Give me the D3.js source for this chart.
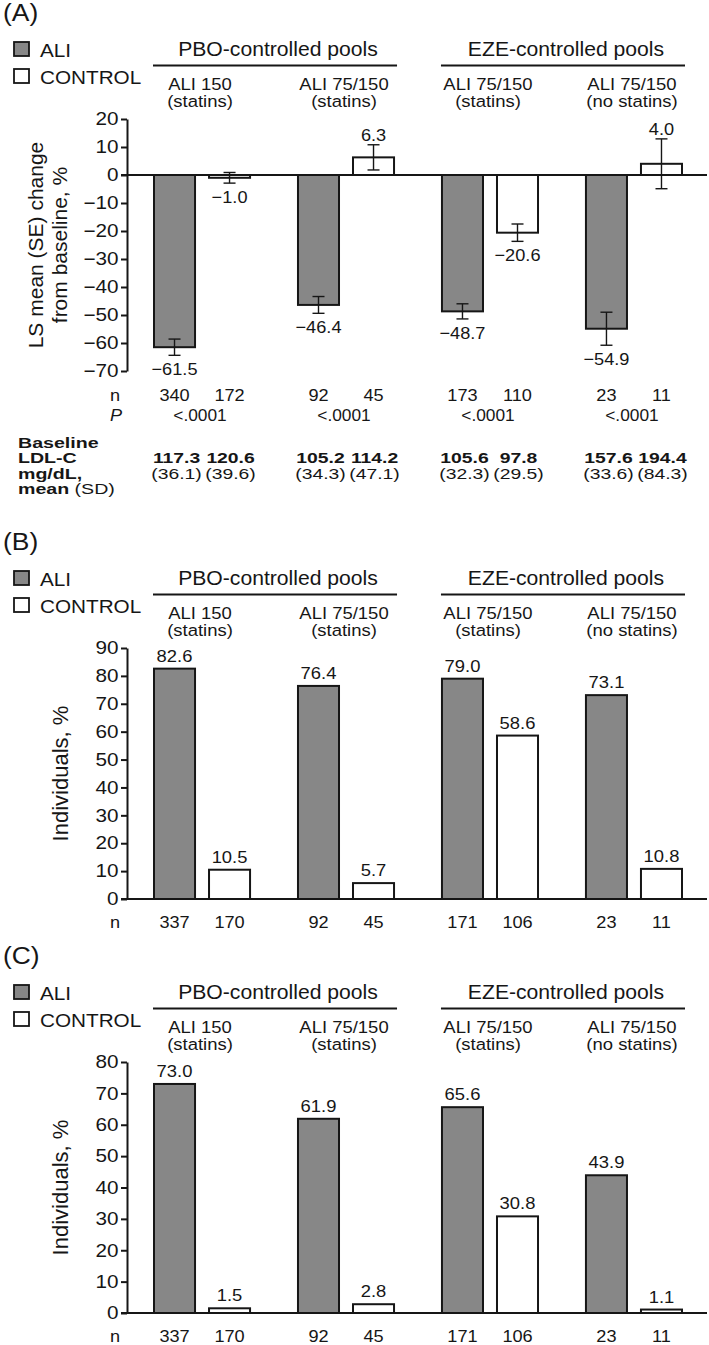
<!DOCTYPE html>
<html><head><meta charset="utf-8">
<script src="https://cdn.jsdelivr.net/npm/d3@7"></script>
<style>
html,body{margin:0;padding:0;background:#fff;}
svg{display:block;font-family:"Liberation Sans",Arial,Helvetica,sans-serif;}
text{fill:#161616;}
</style></head>
<body>
<svg id="chart" width="709" height="1345"></svg>
<script>
// ---------- data ----------
const groups = ["g1", "g2", "g3", "g4"];
const series = ["ALI", "CONTROL"];
const pools = ["PBO-controlled pools", "EZE-controlled pools"];
const subTop = ["ALI 150", "ALI 75/150", "ALI 75/150", "ALI 75/150"];
const subBottom = ["(statins)", "(statins)", "(statins)", "(no statins)"];

// Panel A: LS mean (SE) % change from baseline
const aAli = [-61.5, -46.4, -48.7, -54.9];
const aAliSE = [2.9, 3.0, 2.7, 5.9];
const aCtl = [-1.0, 6.3, -20.6, 4.0];
const aCtlSE = [1.9, 4.5, 3.1, 8.9];
const aNAli = [340, 92, 173, 23];
const aNCtl = [172, 45, 110, 11];
const aP = ["<.0001", "<.0001", "<.0001", "<.0001"];
const baseAli = ["117.3", "105.2", "105.6", "157.6"];
const baseCtl = ["120.6", "114.2", "97.8", "194.4"];
const sdAli = ["(36.1)", "(34.3)", "(32.3)", "(33.6)"];
const sdCtl = ["(39.6)", "(47.1)", "(29.5)", "(84.3)"];
const aTicks = [-70, -60, -50, -40, -30, -20, -10, 0, 10, 20];

// Panel B: individuals, %
const bAli = [82.6, 76.4, 79.0, 73.1];
const bCtl = [10.5, 5.7, 58.6, 10.8];
const bNAli = [337, 92, 171, 23];
const bNCtl = [170, 45, 106, 11];
const bTicks = [0, 10, 20, 30, 40, 50, 60, 70, 80, 90];

// Panel C: individuals, %
const cAli = [73.0, 61.9, 65.6, 43.9];
const cCtl = [1.5, 2.8, 30.8, 1.1];
const cNAli = [337, 92, 171, 23];
const cNCtl = [170, 45, 106, 11];
const cTicks = [0, 10, 20, 30, 40, 50, 60, 70, 80];

// ---------- styling / layout ----------
const GRAY = "#878787";
const INK = "#161616";
const svg = d3.select("#chart");
svg.append("rect").attr("width", 709).attr("height", 1345).attr("fill", "#fff");

const x0 = d3.scaleBand().domain(groups).range([153, 683]).paddingInner(0.319).paddingOuter(0);
const x1 = d3.scaleBand().domain(series).range([0, x0.bandwidth()]).paddingInner(0.218).paddingOuter(0);
const cx = (g, s) => x0(g) + x1(s) + x1.bandwidth() / 2;
const gc = g => x0(g) + x0.bandwidth() / 2;
const minus = s => String(s).replace(/-/g, "\u2212");
const fmt = v => minus(d3.format(".1f")(v));

function T(g, x, y, s, o = {}) {
  const t = g.append("text")
    .attr("transform", `translate(${x},${y}) scale(${o.sx || 1.1},1)`)
    .attr("text-anchor", o.anchor || "middle")
    .style("font-size", (o.size || 17) + "px")
    .style("font-weight", o.weight || "normal");
  if (o.italic) t.style("font-style", "italic");
  t.text(s);
  return t;
}

function header(g, label) {
  T(g, 3, 21, label, {anchor: "start", size: 24, sx: 1.1});
  // legend
  [["ALI", GRAY, 42, 57], ["CONTROL", "#fff", 69, 84]].forEach(([name, fill, sy, ty]) => {
    g.append("rect").attr("x", 14).attr("y", sy).attr("width", 15).attr("height", 14)
      .attr("fill", fill).attr("stroke", INK).attr("stroke-width", 1.8);
    T(g, 40, ty, name, {anchor: "start", size: 18.5, sx: 1.12});
  });
  // pool headers
  const poolSpans = [[groups[0], groups[1]], [groups[2], groups[3]]];
  poolSpans.forEach(([ga, gb], i) => {
    const xa = x0(ga), xb = x0(gb) + x0.bandwidth();
    g.append("line").attr("x1", xa).attr("x2", xb + 2).attr("y1", 65.5).attr("y2", 65.5)
      .attr("stroke", INK).attr("stroke-width", 2);
    T(g, (xa + xb) / 2 + 4, 56, pools[i], {size: 19.5, sx: 1.085});
  });
  groups.forEach((gr, i) => {
    T(g, gc(gr) - 2, 90, subTop[i], {size: 16.8, sx: 1.1});
    T(g, gc(gr) - 2, 107, subBottom[i], {size: 16.8, sx: 1.1});
  });
}

function yAxis(g, y, ticks) {
  const ax = g.append("g").attr("transform", "translate(127,0)")
    .call(d3.axisLeft(y).tickValues(ticks).tickSize(6).tickSizeOuter(0).tickPadding(3)
      .tickFormat(d => minus(d3.format("d")(d))));
  ax.select(".domain").attr("stroke", INK).attr("stroke-width", 2);
  ax.selectAll(".tick line").attr("stroke", INK).attr("stroke-width", 2);
  ax.selectAll(".tick text").attr("fill", INK).style("font-size", "18px")
    .style("font-family", "'Liberation Sans',Arial,Helvetica,sans-serif")
    .attr("x", -8.5 / 1.15).attr("transform", "scale(1.15,1)");
  // zero line across the chart
  g.append("line").attr("x1", 121).attr("x2", 707).attr("y1", y(0)).attr("y2", y(0))
    .attr("stroke", INK).attr("stroke-width", 2);
}

function bars(g, y, vals, name) {
  g.selectAll(null).data(vals).enter().append("rect")
    .attr("x", (d, i) => x0(groups[i]) + x1(name) + 1)
    .attr("width", x1.bandwidth() - 2)
    .attr("y", d => Math.min(y(d), y(0)))
    .attr("height", d => Math.abs(y(d) - y(0)))
    .attr("fill", name === "ALI" ? GRAY : "#fff")
    .attr("stroke", INK).attr("stroke-width", 2);
}

function nRow(g, yb, nA, nC) {
  T(g, 120, yb, "n", {anchor: "end", size: 16.5, sx: 1.1});
  groups.forEach((gr, i) => {
    T(g, cx(gr, "ALI"), yb, String(nA[i]), {size: 16.5, sx: 1.1});
    T(g, cx(gr, "CONTROL"), yb, String(nC[i]), {size: 16.5, sx: 1.1});
  });
}

// ---------- Panel A ----------
(function () {
  const g = svg.append("g").attr("transform", "translate(0,0)");
  header(g, "(A)");
  const y = d3.scaleLinear().domain([-70, 20]).range([371, 119]);
  g.append("text").attr("transform", "translate(43,245) rotate(-90)")
    .attr("text-anchor", "middle").style("font-size", "21px").text("LS mean (SE) change");
  g.append("text").attr("transform", "translate(67,245) rotate(-90)")
    .attr("text-anchor", "middle").style("font-size", "21px").text("from baseline, %");
  yAxis(g, y, aTicks);
  bars(g, y, aAli, "ALI");
  bars(g, y, aCtl, "CONTROL");
  [[aAli, aAliSE, "ALI"], [aCtl, aCtlSE, "CONTROL"]].forEach(([v, se, name]) => {
    v.forEach((d, i) => {
      const x = cx(groups[i], name);
      const top = y(d + se[i]), bot = y(d - se[i]);
      g.append("line").attr("x1", x).attr("x2", x).attr("y1", top).attr("y2", bot).attr("stroke", INK).attr("stroke-width", 1.4);
      [top, bot].forEach(yy => g.append("line").attr("x1", x - 6).attr("x2", x + 6).attr("y1", yy).attr("y2", yy).attr("stroke", INK).attr("stroke-width", 1.4));
      const ly = d >= 0 ? top - 3.5 : bot + 20;
      T(g, x, ly, fmt(d), {size: 17, sx: 1.07});
    });
  });
  nRow(g, 401, aNAli, aNCtl);
  T(g, 122, 421, "P", {anchor: "end", size: 16.5, sx: 1.1, italic: true});
  groups.forEach((gr, i) => T(g, gc(gr) - 2, 421, aP[i], {size: 16.5, sx: 1.05}));
  // baseline LDL-C table
  const rows = [447.5, 463, 478.5, 494];
  const tb = {size: 14, sx: 1.4, anchor: "start", weight: "bold"};
  T(g, 18, rows[0], "Baseline", tb);
  T(g, 18, rows[1], "LDL-C", tb);
  T(g, 18, rows[2], "mg/dL,", tb);
  const m = g.append("text").attr("transform", `translate(18,${rows[3]}) scale(1.4,1)`)
    .style("font-size", "14px");
  m.append("tspan").style("font-weight", "bold").text("mean");
  m.append("tspan").text(" (SD)");
  groups.forEach((gr, i) => {
    T(g, cx(gr, "ALI") + 2, rows[1], baseAli[i], {size: 14, sx: 1.38, weight: "bold"});
    T(g, cx(gr, "CONTROL") + 1, rows[1], baseCtl[i], {size: 14, sx: 1.38, weight: "bold"});
    T(g, cx(gr, "ALI") + 2, rows[2], sdAli[i], {size: 14, sx: 1.38});
    T(g, cx(gr, "CONTROL") + 1, rows[2], sdCtl[i], {size: 14, sx: 1.38});
  });
})();

// ---------- Panels B and C ----------
function pctPanel(offset, label, ali, ctl, nA, nC, ticks) {
  const g = svg.append("g").attr("transform", `translate(0,${offset})`);
  header(g, label);
  const y = d3.scaleLinear().domain([0, d3.max(ticks)]).range([370, 119]);
  g.append("text").attr("transform", `translate(68,${(370 + 119) / 2}) rotate(-90)`)
    .attr("text-anchor", "middle").style("font-size", "22px").text("Individuals, %");
  yAxis(g, y, ticks);
  bars(g, y, ali, "ALI");
  bars(g, y, ctl, "CONTROL");
  [[ali, "ALI"], [ctl, "CONTROL"]].forEach(([v, name]) => {
    v.forEach((d, i) => T(g, cx(groups[i], name), y(d) - 7, fmt(d), {size: 16, sx: 1.15}));
  });
  nRow(g, 399, nA, nC);
}
pctPanel(529, "(B)", bAli, bCtl, bNAli, bNCtl, bTicks);
pctPanel(943, "(C)", cAli, cCtl, cNAli, cNCtl, cTicks);
</script>
</body></html>
